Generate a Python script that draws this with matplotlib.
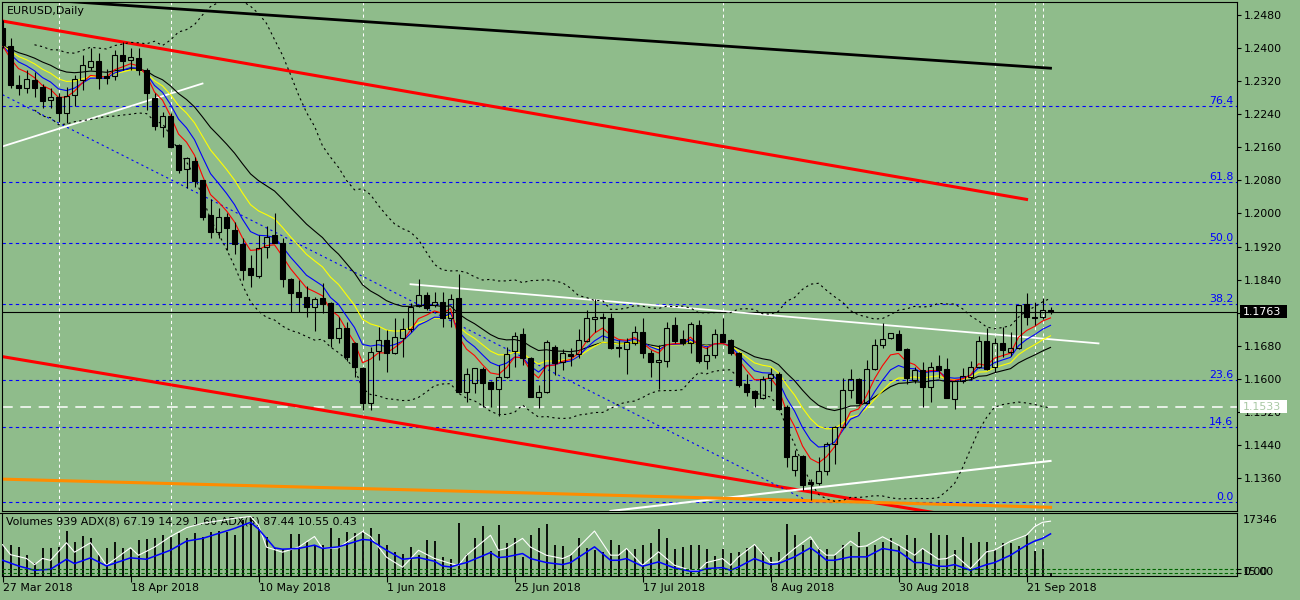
import matplotlib
matplotlib.use('Agg')
import matplotlib.pyplot as plt
from matplotlib.patches import Rectangle
import numpy as np
import pandas as pd

plt.rcParams['font.family'] = ['DejaVu Sans']
plt.rcParams['font.size'] = 7.9

symbol = "EURUSD,Daily"

opens = [
    1.2447, 1.2404, 1.2310, 1.2302, 1.2322, 1.2305, 1.2273, 1.2281, 1.2242, 1.2286,
    1.2322, 1.2353, 1.2368, 1.2331, 1.2331, 1.2382, 1.2372, 1.2375, 1.2346, 1.2278,
    1.2208, 1.2235, 1.2165, 1.2107, 1.2126, 1.2080, 1.1996, 1.1955, 1.1991, 1.1959,
    1.1926, 1.1868, 1.1848, 1.1918, 1.1947, 1.1928, 1.1841, 1.1810, 1.1797, 1.1773,
    1.1795, 1.1783, 1.1698, 1.1723, 1.1686, 1.1626, 1.1541, 1.1667, 1.1694, 1.1662,
    1.1698, 1.1720, 1.1776, 1.1802, 1.1778, 1.1785, 1.1747, 1.1795, 1.1568, 1.1590,
    1.1624, 1.1592, 1.1575, 1.1604, 1.1667, 1.1708, 1.1650, 1.1556, 1.1568, 1.1677,
    1.1640, 1.1660, 1.1660, 1.1691, 1.1744, 1.1751, 1.1747, 1.1677, 1.1672, 1.1686,
    1.1713, 1.1662, 1.1640, 1.1643, 1.1730, 1.1696, 1.1686, 1.1730, 1.1643, 1.1657,
    1.1708, 1.1694, 1.1662, 1.1587, 1.1570, 1.1553, 1.1602, 1.1611, 1.1532, 1.1379,
    1.1413, 1.1350, 1.1348, 1.1377, 1.1442, 1.1483, 1.1573, 1.1599, 1.1541, 1.1624,
    1.1682, 1.1698, 1.1708, 1.1672, 1.1597, 1.1621, 1.1580, 1.1631, 1.1624, 1.1551,
    1.1595, 1.1604, 1.1628, 1.1691, 1.1628, 1.1686, 1.1665, 1.1674, 1.1781, 1.1749,
    1.1751, 1.1766]

highs = [
    1.2467, 1.2423, 1.2334, 1.2346, 1.2341, 1.2314, 1.2302, 1.2290, 1.2305, 1.2334,
    1.2382, 1.2399, 1.2387, 1.2348, 1.2394, 1.2414, 1.2399, 1.2399, 1.2351, 1.2290,
    1.2244, 1.2242, 1.2168, 1.2136, 1.2136, 1.2082, 1.2034, 1.2012, 1.2000, 1.1979,
    1.1940, 1.1899, 1.1947, 1.1969, 1.2000, 1.1940, 1.1843, 1.1839, 1.1824, 1.1797,
    1.1831, 1.1785, 1.1749, 1.1737, 1.1689, 1.1628, 1.1677, 1.1725, 1.1718, 1.1747,
    1.1747, 1.1783, 1.1841, 1.1810, 1.1810, 1.1810, 1.1805, 1.1853, 1.1626, 1.1626,
    1.1628, 1.1594, 1.1633, 1.1677, 1.1713, 1.1723, 1.1652, 1.1585, 1.1694, 1.1682,
    1.1672, 1.1674, 1.1720, 1.1766, 1.1793, 1.1759, 1.1759, 1.1694, 1.1698, 1.1727,
    1.1747, 1.1669, 1.1682, 1.1737, 1.1751, 1.1718, 1.1737, 1.1742, 1.1677, 1.1720,
    1.1747, 1.1696, 1.1665, 1.1611, 1.1573, 1.1607, 1.1626, 1.1616, 1.1537, 1.1428,
    1.1416, 1.1358, 1.1411, 1.1447, 1.1486, 1.1602, 1.1624, 1.1602, 1.1645, 1.1696,
    1.1735, 1.1710, 1.1718, 1.1674, 1.1628, 1.1640, 1.1640, 1.1657, 1.1650, 1.1597,
    1.1626, 1.1643, 1.1703, 1.1723, 1.1698, 1.1725, 1.1713, 1.1778, 1.1807, 1.1785,
    1.1795, 1.1773]

lows = [
    1.2399, 1.2302, 1.2286, 1.2290, 1.2281, 1.2254, 1.2256, 1.2220, 1.2218, 1.2259,
    1.2298, 1.2346, 1.2300, 1.2314, 1.2322, 1.2346, 1.2346, 1.2334, 1.2249, 1.2201,
    1.2184, 1.2157, 1.2097, 1.2061, 1.2063, 1.1983, 1.1940, 1.1940, 1.1911, 1.1901,
    1.1839, 1.1822, 1.1843, 1.1892, 1.1928, 1.1822, 1.1761, 1.1761, 1.1751, 1.1715,
    1.1759, 1.1677, 1.1686, 1.1643, 1.1604, 1.1524, 1.1524, 1.1645, 1.1616, 1.1660,
    1.1652, 1.1713, 1.1773, 1.1766, 1.1773, 1.1725, 1.1725, 1.1566, 1.1544, 1.1566,
    1.1532, 1.1532, 1.1510, 1.1602, 1.1628, 1.1633, 1.1556, 1.1529, 1.1566, 1.1609,
    1.1621, 1.1631, 1.1650, 1.1689, 1.1713, 1.1694, 1.1672, 1.1652, 1.1611, 1.1682,
    1.1650, 1.1604, 1.1575, 1.1628, 1.1686, 1.1682, 1.1662, 1.1638, 1.1624, 1.1650,
    1.1689, 1.1657, 1.1580, 1.1558, 1.1532, 1.1551, 1.1570, 1.1524, 1.1387, 1.1365,
    1.1331, 1.1307, 1.1343, 1.1367, 1.1394, 1.1481, 1.1553, 1.1539, 1.1539, 1.1622,
    1.1674, 1.1696, 1.1669, 1.1587, 1.1590, 1.1532, 1.1544, 1.1602, 1.1553, 1.1527,
    1.1590, 1.1597, 1.1626, 1.1621, 1.1616, 1.1652, 1.1655, 1.1672, 1.1730, 1.1730,
    1.1744, 1.1756]

closes = [
    1.2406, 1.2310, 1.2302, 1.2324, 1.2302, 1.2271, 1.2281, 1.2242, 1.2283, 1.2324,
    1.2358, 1.2368, 1.2327, 1.2327, 1.2382, 1.2368, 1.2377, 1.2346, 1.2290, 1.2211,
    1.2235, 1.2160, 1.2104, 1.2133, 1.2078, 1.1991, 1.1955, 1.1991, 1.1964, 1.1926,
    1.1863, 1.1851, 1.1916, 1.1942, 1.1928, 1.1841, 1.1807, 1.1797, 1.1773, 1.1793,
    1.1781, 1.1698, 1.1723, 1.1652, 1.1628, 1.1541, 1.1665, 1.1694, 1.1662, 1.1701,
    1.1720, 1.1773, 1.1802, 1.1771, 1.1785, 1.1747, 1.1793, 1.1568, 1.1611, 1.1626,
    1.1590, 1.1575, 1.1604, 1.1660, 1.1703, 1.1650, 1.1556, 1.1568, 1.1689, 1.1638,
    1.1662, 1.1655, 1.1694, 1.1747, 1.1751, 1.1747, 1.1674, 1.1674, 1.1689, 1.1713,
    1.1662, 1.1640, 1.1645, 1.1723, 1.1691, 1.1686, 1.1732, 1.1643, 1.1657, 1.1708,
    1.1689, 1.1662, 1.1585, 1.1568, 1.1553, 1.1599, 1.1611, 1.1527, 1.1411, 1.1413,
    1.1343, 1.1346, 1.1377, 1.1442, 1.1483, 1.1573, 1.1599, 1.1541, 1.1624, 1.1682,
    1.1696, 1.1710, 1.1669, 1.1602, 1.1621, 1.1580, 1.1628, 1.1621, 1.1553, 1.1595,
    1.1607, 1.1628, 1.1691, 1.1624, 1.1686, 1.1669, 1.1674, 1.1778, 1.1749, 1.1747,
    1.1766, 1.1763]

volumes = [
    8700, 8700, 8100, 5900, 3700, 7800, 7800, 8100, 12400, 9500,
    11000, 10400, 5800, 7800, 9300, 7800, 7600, 9900, 10100, 10400,
    11300, 10900, 12000, 10400, 12000, 10900, 12300, 12400, 12300, 11300,
    15500, 16400, 13600, 10900, 7800, 7600, 11500, 11500, 9500, 8500,
    8700, 13200, 10400, 12100, 11800, 12300, 13200, 11500, 8500, 6700,
    6200, 8100, 5800, 9900, 9700, 5300, 4800, 14600, 6200, 10400,
    13900, 6900, 14100, 9000, 10400, 5300, 11300, 13200,
    14300, 8500, 8400, 5800, 10400, 7800, 7100, 6700, 9900, 8500,
    7600, 7600, 8700, 9000, 13000, 10400, 7600, 8100, 8500, 8700,
    7400, 5600, 7600, 6500, 6700, 7800, 8700, 6700, 5300, 6700,
    14300, 11300, 8500, 9900, 7800, 7600, 5800, 8500, 8400, 12300,
    8100, 8500, 9500, 10400, 8700, 11300, 10400, 7600, 11800, 11300,
    11300, 7100, 10900, 9000, 9300, 9300, 7100, 9000, 9000, 8400,
    11300, 6900, 7600, 939]
vol_max = 17346

# ADX main lines (white = ADX(5), blue = ADX(8)), read at these bars
adx5_bars = [0, 1, 3, 4, 5, 6, 8, 9, 11, 13, 16, 17, 19, 21, 23, 25, 27, 29, 31, 32,
             33, 35, 37, 39, 40, 42, 45, 46, 48, 50, 52, 54, 56, 57, 58, 61, 62, 63, 65, 66,
             68, 69, 70, 71, 74, 76, 77, 78, 80, 82, 84, 86, 87, 88, 90, 91, 92, 94, 96, 97,
             99, 101, 102, 103, 104, 106, 107, 108, 110, 112, 114, 115, 117, 118, 119, 121,
             123, 124, 126, 128, 129, 130, 131]
adx5_vals = [50, 34, 28, 18, 28, 25, 53, 38, 53, 17, 45, 33, 46, 63, 77, 84, 88, 92, 95, 81,
             46, 38, 46, 63, 44, 45, 71, 63, 30, 14, 41, 28, 20, 17, 33, 65, 41, 44, 60, 46,
             33, 30.5, 27.8, 33.2, 71.7, 33.2, 33.2, 43.9, 17.1, 38.5, 17.1, 9.1, 9.1, 21.4,
             27.8, 17.1, 30.5, 50.3, 21.4, 22.5, 43.9, 62.6, 43.9, 33.2, 33.2, 55.6, 46.5,
             48.1, 62.6, 49.2, 33.2, 43.9, 26.7, 27.8, 34.2, 11.8, 38.5, 41.2, 55.6, 65.2,
             78.6, 85.6, 87.44]
adx8_bars = [0, 2, 4, 6, 8, 9, 11, 13, 16, 18, 21, 23, 25, 27, 29, 31, 32, 33, 34, 35,
             37, 39, 40, 42, 45, 46, 48, 50, 52, 54, 55, 56, 57, 58, 61, 62, 63, 65, 66, 68,
             69, 70, 71, 74, 76, 77, 78, 80, 82, 84, 86, 87, 88, 90, 91, 92, 94, 96, 97, 99,
             101, 102, 103, 104, 106, 107, 108, 110, 112, 114, 115, 117, 118, 119, 121, 123,
             124, 126, 128, 129, 130, 131]
adx8_vals = [25.1, 16.0, 9.1, 10.7, 26.7, 19.8, 28.9, 16.0, 28.9, 26.7, 41.2, 55.6, 59.9,
             67.9, 75.9, 85.6, 74.9, 59.9, 44.9, 42.8, 43.9, 49.2, 43.9, 46.5, 58.3, 57.2,
             41.2, 26.7, 29.4, 23.5, 16.0, 14.4, 18.2, 21.4, 37.4, 29.4, 30.5, 35.8, 27.8,
             21.4, 19.8, 18.2, 21.4, 46.5, 25.1, 25.1, 27.8, 15.5, 22.5, 12.8, 7.5, 7.5,
             11.8, 13.4, 9.1, 14.4, 27.8, 18.2, 19.8, 30.5, 44.9, 35.8, 25.1, 25.1, 30.5,
             30.5, 30.5, 43.9, 39.6, 21.4, 21.4, 15.5, 15.5, 18.2, 9.1, 18.2, 21.4, 33.2,
             49.2, 55.6, 59.9, 67.19]
adx_levels = [5.3, 10.7]

date_bars = [0, 16, 32, 48, 64, 80, 96, 112, 128]
date_labels = ['27 Mar 2018', '18 Apr 2018', '10 May 2018', '1 Jun 2018', '25 Jun 2018',
               '17 Jul 2018', '8 Aug 2018', '30 Aug 2018', '21 Sep 2018']
separator_bars = [7, 21, 45, 90, 124, 129, 130]

price_ticks = np.round(1.1360 + 0.008 * np.arange(15), 4)
price_bottom, price_top = 1.1281, 1.2511
cur_price = 1.1763
alert_price = 1.1533

fib_low, fib_high = 1.1302, 1.2555
fib_levels = [0.0, 14.6, 23.6, 38.2, 50.0, 61.8, 76.4]

# hand drawn lines: bars and prices at their ends
black_channel_bars, black_channel_px = [0, 131], [1.2523, 1.2351]
red_upper_bars, red_upper_px = [0, 128], [1.2465, 1.2034]
red_lower_bars, red_lower_px = [0, 131], [1.1654, 1.1230]
blue_trend_bars, blue_trend_px = [0, 101], [1.2287, 1.1302]
white_left_bars, white_left_px = [0, 25], [1.2162, 1.2314]
white_mid_bars, white_mid_px = [51, 137], [1.1829, 1.1686]
white_low_bars, white_low_px = [76, 131], [1.1281, 1.1402]
orange_bars, orange_px = [0, 65, 131], [1.1358, 1.1325, 1.1290]

bg = '#8fbc8b'
n = len(closes)
x = np.arange(n)
o = np.array(opens); h = np.array(highs); l = np.array(lows); c = np.array(closes)
cs = pd.Series(c)

fig = plt.figure(figsize=(13, 6), dpi=100, facecolor=bg)
ax = fig.add_axes([2 / 1300, 89 / 600, 1235 / 1300, 509 / 600], facecolor=bg)
ax2 = fig.add_axes([2 / 1300, 24 / 600, 1235 / 1300, 62.7 / 600], facecolor=bg, sharex=ax)
ax.set_xlim(-0.0625, 154.31)
ax.set_ylim(price_bottom, price_top)

for a in (ax, ax2):
    for s in a.spines.values():
        s.set_color('black')
        s.set_linewidth(0.8)

# separators and fibo
for b in separator_bars:
    ax.axvline(b, color='white', lw=0.75, ls=(0, (3, 3)), zorder=1)
    ax2.axvline(b, color='white', lw=0.75, ls=(0, (3, 3)), zorder=1)
for lv in fib_levels:
    p = fib_low + (fib_high - fib_low) * lv / 100
    ax.axhline(p, color='#0000ff', lw=0.8, ls=(0, (3, 3)), zorder=1)
    ax.text(0.997, p, '%.1f' % lv, color='#0000ff', ha='right', va='bottom',
            transform=ax.get_yaxis_transform())
ax.axhline(cur_price, color='black', lw=0.8, zorder=2)
ax.axhline(alert_price, color='white', lw=1.1, ls=(0, (7, 5)), zorder=2)

# trend lines
ax.plot(black_channel_bars, black_channel_px, color='black', lw=2.0, zorder=2)
ax.plot(red_upper_bars, red_upper_px, color='#ff0000', lw=2.2, zorder=2)
ax.plot(red_lower_bars, red_lower_px, color='#ff0000', lw=2.2, zorder=2)
ax.plot(blue_trend_bars, blue_trend_px, color='#0000ff', lw=0.8, ls=(0, (2, 3)), zorder=2)
ax.plot(white_left_bars, white_left_px, color='white', lw=1.3, zorder=2)
ax.plot(white_mid_bars, white_mid_px, color='white', lw=1.3, zorder=2)
ax.plot(white_low_bars, white_low_px, color='white', lw=1.5, zorder=2)
ax.plot(orange_bars, orange_px, color='#ff8c00', lw=2.2, zorder=2)

# bollinger bands
mid = cs.rolling(20, min_periods=5).mean()
sd = cs.rolling(20, min_periods=5).std(ddof=0)
ax.plot(x, mid + 2 * sd, color='black', lw=0.8, ls=(0, (2, 3)), zorder=3)
ax.plot(x, mid - 2 * sd, color='black', lw=0.8, ls=(0, (2, 3)), zorder=3)

# moving averages
for span, col in [(21, 'black'), (13, '#ffff00'), (8, '#0000ff'), (5, '#ff0000')]:
    ax.plot(x, cs.ewm(span=span, adjust=False).mean(), color=col, lw=0.8, zorder=4)

# candles
top = np.maximum(o, c)
bot = np.minimum(o, c)
ax.vlines(x, top, h, color='black', lw=0.8, zorder=5)
ax.vlines(x, l, bot, color='black', lw=0.8, zorder=5)
up = c >= o
ax.bar(x[up], (top - bot)[up], bottom=bot[up], width=0.72, facecolor='none',
       edgecolor='black', linewidth=0.8, zorder=6)
ax.bar(x[~up], (top - bot)[~up], bottom=bot[~up], width=0.72, facecolor='black',
       edgecolor='black', linewidth=0.8, zorder=6)

ax.yaxis.tick_right()
ax.set_yticks(price_ticks)
ax.set_yticklabels(['%.4f' % t for t in price_ticks])
ax.tick_params(axis='y', direction='out', length=3, width=0.8, pad=2, colors='black')
ax.tick_params(axis='x', bottom=False, labelbottom=False)

ax.text(0.004, 0.993, symbol, transform=ax.transAxes, ha='left', va='top')

# price boxes on the scale
ytr = ax.get_yaxis_transform()
ax.add_patch(Rectangle((1.0024, cur_price - 0.0016), 0.038, 0.0032, transform=ytr,
                       facecolor='black', edgecolor='none', clip_on=False, zorder=20))
ax.text(1.0048, cur_price, '%.4f' % cur_price, transform=ytr, color='white',
        ha='left', va='center', clip_on=False, zorder=21)
ax.add_patch(Rectangle((1.0024, alert_price - 0.0016), 0.038, 0.0032, transform=ytr,
                       facecolor='white', edgecolor='none', clip_on=False, zorder=20))
ax.text(1.0048, alert_price, '%.4f' % alert_price, transform=ytr, color='#a9c9a4',
        ha='left', va='center', clip_on=False, zorder=21)

# volume / adx window
ax2.vlines(x, 0, volumes, color='black', lw=1.3, zorder=2)
ax2.set_ylim(0, vol_max)
ax2.yaxis.tick_right()
ax2.set_yticks([vol_max])
ax2.set_yticklabels([''])
ax2.tick_params(axis='y', direction='out', length=3, width=0.8)
ax2.text(1.005, 0.9, str(vol_max), transform=ax2.transAxes, ha='left', va='center')
ax2.text(1.005, 0.06, '0.00', transform=ax2.transAxes, ha='left', va='center')
ax2.text(1.005, 0.06, '15.00', transform=ax2.transAxes, ha='left', va='center')

ax3 = ax2.twinx()
ax3.set_ylim(0, 100)
ax3.plot(adx5_bars, adx5_vals, color='white', lw=0.8)
ax3.plot(adx8_bars, adx8_vals, color='#0000ff', lw=1.1)
for lv in adx_levels:
    ax3.axhline(lv, color='#006400', lw=0.8, ls=(0, (3, 2)))
ax3.set_yticks(adx_levels)
ax3.set_yticklabels(['', ''])
ax3.tick_params(axis='y', direction='out', length=3, width=0.8)
for s in ax3.spines.values():
    s.set_visible(False)

ax2.text(0.003, 0.87, 'Volumes 939 ADX(8) 67.19 14.29 1.60 ADX(5) 87.44 10.55 0.43',
         transform=ax2.transAxes, ha='left', va='center', zorder=10)

ax2.set_xticks(date_bars)
ax2.set_xticklabels(date_labels, ha='left')
ax2.tick_params(axis='x', direction='out', length=4, width=0.8, pad=1)
ax2.set_xlim(-0.0625, 154.31)

fig.savefig('out.png', dpi=100, facecolor=bg)
